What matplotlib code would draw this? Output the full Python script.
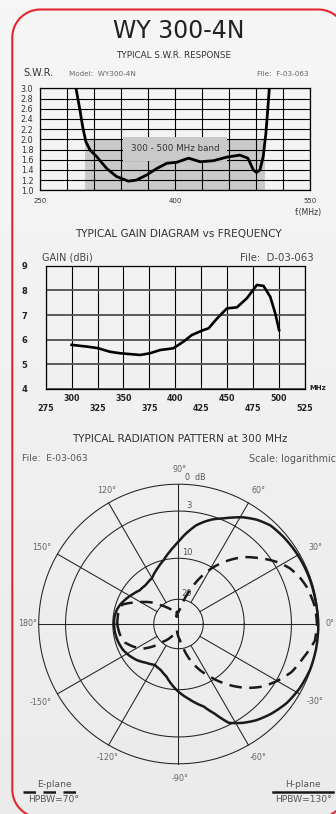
import numpy as np
import matplotlib
matplotlib.use("Agg")
import matplotlib.pyplot as plt
from matplotlib.patches import Rectangle, PathPatch
from matplotlib.path import Path
from matplotlib.colors import LinearSegmentedColormap

# ---------------- data ----------------
# S.W.R. response
swr_freq = [290, 294.4, 297.4, 301, 305.6, 313, 324, 335, 348, 357, 368.5, 380, 391,
            402, 415, 428, 442.6, 457.4, 472, 481, 487, 490.7, 494.4, 498, 501, 503, 504.8]
swr_vals = [3.0, 2.57, 2.25, 1.95, 1.79, 1.66, 1.43, 1.27, 1.18, 1.20, 1.30, 1.43, 1.53,
            1.55, 1.63, 1.56, 1.58, 1.65, 1.69, 1.63, 1.40, 1.35, 1.40, 1.66, 2.12, 2.57, 3.0]
swr_yticks = [1.0, 1.2, 1.4, 1.6, 1.8, 2.0, 2.2, 2.4, 2.6, 2.8, 3.0]
swr_xlabels = [250, 400, 550]
band_lo, band_hi, band_swr = 300, 500, 2.0

# Gain vs frequency
gain_freq = [300, 314.6, 325, 337, 346.7, 366, 375.6, 385.3, 398, 407.8, 415.9, 427, 432,
             440, 449.7, 459.3, 469, 478.6, 485, 491.5, 496.3, 500]
gain_vals = [5.79, 5.72, 5.66, 5.51, 5.45, 5.38, 5.45, 5.58, 5.65, 5.92, 6.19, 6.39, 6.46,
             6.85, 7.27, 7.31, 7.68, 8.22, 8.18, 7.74, 7.07, 6.39]
gain_yticks = [4, 5, 6, 7, 8, 9]
gain_xticks = [275, 300, 325, 350, 375, 400, 425, 450, 475, 500, 525]

# Radiation pattern at 300 MHz (dB below maximum)
h_ang = [-180, -172, -163, -155, -147, -139, -130, -120, -111, -103, -98, -90, -82, -73,
         -68, -63, -57, -51, -44, -36, -28, -19, -10, 0, 10, 18, 25, 31, 39, 47, 53, 59,
         63, 67, 72, 76, 80, 83, 86, 89, 93, 97, 103, 110, 120, 130, 139, 147, 154, 161,
         167, 174, 180]
h_db = [10.3, 10.4, 10.7, 11.1, 11.8, 12.6, 13.7, 14.5, 14.0, 12.9, 11.6, 9.7, 8.5, 6.95,
        5.4, 3.3, 2.45, 1.79, 1.2, 0.64, 0.3, 0.06, 0.0, 0.0, 0.1, 0.12, 0.17, 0.24, 0.37,
        0.56, 1.04, 1.71, 2.27, 2.8, 3.44, 4.14, 4.92, 5.71, 6.48, 7.29, 8.18, 8.95, 10.0,
        11.4, 13.1, 13.6, 13.5, 12.7, 11.9, 11.1, 10.6, 10.3, 10.3]
e_ang = [-180, -170, -161, -153, -145, -138, -131, -120, -111, -104, -95, -85, -78, -71,
         -65, -59, -51, -43, -37, -30, -23, -15, -7, 0, 7, 16, 21, 26.5, 31, 35, 40, 46,
         52, 58.5, 65, 71, 76, 81, 90, 98, 104, 115, 126, 134, 141, 148, 155, 161, 170, 180]
e_db = [11.1, 11.5, 12.2, 13.8, 15.6, 18.0, 21.1, 27.9, 31.9, 35.0, 31.9, 27.0, 19.7, 16.3,
        13.6, 11.0, 8.2, 5.86, 4.3, 2.9, 1.9, 1.16, 0.27, 0.15, 0.25, 0.7, 1.1, 1.7, 2.4,
        3.2, 4.5, 5.96, 7.8, 9.88, 13.6, 17.3, 19.5, 26.4, 30.3, 30.0, 34.0, 27.9, 23.2,
        19.6, 17.7, 15.9, 13.7, 11.5, 11.1, 11.1]
ring_db = [0, 3, 10, 20]
scale_db = [0, 3, 10, 20, 40]
scale_r = [1.0, 0.808, 0.47, 0.177, 0.0]
spoke_angles = [30, 60, 120, 150, 210, 240, 300, 330]

W, H = 336, 814
fig = plt.figure(figsize=(W / 100, H / 100), dpi=100)

def rect(l, t, r, b):
    return [l / W, 1 - b / H, (r - l) / W, (b - t) / H]

# background + frame
bg = fig.add_axes([0, 0, 1, 1], zorder=-10)
cmap = LinearSegmentedColormap.from_list("bg", ["#f6f6f6", "#ebebeb"])
bg.imshow(np.linspace(0, 1, 100).reshape(-1, 1), cmap=cmap, aspect="auto",
          extent=[0, W, H, 0], zorder=0)
bg.set_xlim(0, W)
bg.set_ylim(H, 0)
bg.set_autoscale_on(False)
bg.axis("off")

def rounded_frame(l, tp, r, b, rad, n=20):
    pts = []
    for (cxx, cyy, a0, a1) in [(r - rad, tp + rad, -90, 0), (r - rad, b - rad, 0, 90),
                               (l + rad, b - rad, 90, 180), (l + rad, tp + rad, 180, 270)]:
        a = np.deg2rad(np.linspace(a0, a1, n))
        pts.extend(zip(cxx + rad * np.cos(a), cyy + rad * np.sin(a)))
    pts.append(pts[0])
    return Path(pts)

bg.add_patch(PathPatch(rounded_frame(12.3, 9.5, 346.3, 817.5, 28), ec="#e3262d",
                       fc="none", lw=1.5, zorder=1))

FONT = "DejaVu Sans"
dark = "#333333"
grey = "#666666"

def t(x, y, s, size, color=dark, ha="center", weight="normal", family=FONT):
    bg.text(x, y, s, fontsize=size, color=color, ha=ha, va="center",
            fontweight=weight, family=family, zorder=5)

t(179, 31, "WY 300-4N", 17, color="#222222")
t(174, 55, "TYPICAL S.W.R. RESPONSE", 6.3)
t(23, 73.5, "S.W.R.", 7, ha="left")
t(69, 73.5, "Model:  WY300-4N", 5.2, color=grey, ha="left")
t(309, 73.5, "File:  F-03-063", 5.2, color=grey, ha="right")
t(308, 212, "f.(MHz)", 5.6, color=dark)

t(178, 233.5, "TYPICAL GAIN DIAGRAM vs FREQUENCY", 7.6)
t(42, 258, "GAIN (dBi)", 7, color="#444444", ha="left")
t(314, 258, "File:  D-03-063", 7.3, color="#444444", ha="right")
t(309, 387.5, "MHz", 5, ha="left", weight="bold", color="#222222")

t(180, 438.5, "TYPICAL RADIATION PATTERN at 300 MHz", 7.6)
t(22.5, 458.5, "File:  E-03-063", 6.6, color="#555555", ha="left")
t(249, 458.5, "Scale: logarithmic", 6.9, color="#555555", ha="left")

# ---------------- SWR chart ----------------
ax1 = fig.add_axes(rect(40, 88.3, 310, 190.3))
ax1.set_facecolor("none")
ax1.set_xlim(250, 550)
ax1.set_ylim(1.0, 3.0)
ax1.add_patch(Rectangle((band_lo, 1.0), band_hi - band_lo, band_swr - 1.0,
                        fc="#c9c9c9", ec="none", zorder=0))
ax1.set_xticks(np.arange(250, 551, 30), minor=True)
ax1.set_xticks(swr_xlabels)
ax1.set_xticklabels([str(v) for v in swr_xlabels], fontsize=5, color=dark)
ax1.set_yticks(swr_yticks)
ax1.set_yticklabels([f"{v:.1f}" for v in swr_yticks], fontsize=5.8, color=dark)
ax1.tick_params(axis="both", which="both", length=0)
ax1.tick_params(axis="x", pad=5.5)
ax1.tick_params(axis="y", pad=4.8)
ax1.grid(True, which="both", axis="x", color="black", lw=0.8, zorder=1)
ax1.grid(True, which="major", axis="y", color="black", lw=0.8, zorder=1)
ax1.set_axisbelow(False)
for s in ax1.spines.values():
    s.set_linewidth(0.9)
ax1.text(400, 1.81, "300 - 500 MHz band", fontsize=6.3, color=dark, ha="center",
         va="center", zorder=3,
         bbox=dict(boxstyle="square,pad=0.9", fc="#c9c9c9", ec="none"))
ax1.plot(swr_freq, swr_vals, color="black", lw=2.0, zorder=4, clip_on=True,
         solid_capstyle="butt")

# ---------------- Gain chart ----------------
ax2 = fig.add_axes(rect(45.7, 265.7, 305, 389))
ax2.set_facecolor("none")
ax2.set_xlim(275, 525)
ax2.set_ylim(4, 9)
ax2.set_xticks(gain_xticks)
labels = [(f"\n{v}" if i % 2 == 0 else f"{v}\n") for i, v in enumerate(gain_xticks)]
ax2.set_xticklabels(labels, fontsize=5.8, fontweight="bold", color="#222222",
                    linespacing=1.15)
ax2.set_yticks(gain_yticks)
ax2.set_yticklabels([str(v) for v in gain_yticks], fontsize=6, fontweight="bold",
                    color="#222222")
ax2.tick_params(axis="both", length=0)
ax2.tick_params(axis="x", pad=3.5)
ax2.tick_params(axis="y", pad=13)
ax2.grid(True, axis="x", color="black", lw=0.8)
ax2.grid(True, axis="y", color="#5a5a5a", lw=1.4)
for s in ax2.spines.values():
    s.set_linewidth(0.9)
ax2.plot(gain_freq, gain_vals, color="black", lw=1.9, zorder=4)

# ---------------- Polar pattern ----------------
cx, cy, R = 178.5, 624, 139.8
ax3 = fig.add_axes(rect(cx - R, cy - R, cx + R, cy + R), projection="polar")
ax3.set_facecolor("none")
ax3.set_ylim(0, 1)
ax3.grid(False)
ax3.set_xticks([])
ax3.set_yticks([])
ax3.spines["polar"].set_visible(False)

def db2r(db):
    return np.interp(db, scale_db, scale_r)

th = np.linspace(0, 2 * np.pi, 361)
for d in ring_db:
    ax3.plot(th, np.full_like(th, db2r(d)), color="#222222", lw=0.75, clip_on=False)
for a in [0, 90, 180, 270]:
    ax3.plot([np.deg2rad(a)] * 2, [0, 1], color="#222222", lw=0.75, clip_on=False)
for a in spoke_angles:
    ax3.plot([np.deg2rad(a)] * 2, [db2r(20), 1], color="#222222", lw=0.75, clip_on=False)

lh, = ax3.plot(np.deg2rad(h_ang), db2r(np.array(h_db)), color="#1a1a1a", lw=1.8,
               clip_on=False, solid_joinstyle="round")
le, = ax3.plot(np.deg2rad(e_ang), db2r(np.array(e_db)), color="#1a1a1a", lw=1.8,
               linestyle=(0, (5, 3)), clip_on=False)
# let the polar transform follow the curve between readings (theta-r space)
for ln in (lh, le):
    ln.get_path()._interpolation_steps = 12

# angle labels
ang_labels = [("90°", 179.7, 470), ("120°", 107, 490.7), ("60°", 258, 490.7),
              ("150°", 42, 547.7), ("30°", 315, 547.7), ("180°", 27.5, 623.5),
              ("0°", 329.5, 623.5), ("-150°", 40.5, 702.3), ("-30°", 315, 702),
              ("-120°", 107.5, 757.7), ("-60°", 258.3, 757.7), ("-90°", 180, 778.3)]
for s, x, y in ang_labels:
    t(x, y, s, 5.8, color="#666666")
t(195, 477, "0  dB", 5.8, color="#555555")
t(188.5, 505, "3", 6, color="#555555")
t(187, 552.3, "10", 6, color="#555555")
t(187, 594, "20", 6, color="#555555")

# legend
t(54, 784.3, "E-plane", 6.6, color="#555555")
bg.plot([23.3, 80], [791.7, 791.7], color="#1a1a1a", lw=1.8, linestyle=(0, (5, 3)), zorder=5)
t(54, 799.5, "HPBW=70°", 6.6, color="#555555")
t(303, 784.3, "H-plane", 6.6, color="#555555")
bg.plot([272.7, 333.3], [791.7, 791.7], color="#1a1a1a", lw=1.8, zorder=5)
t(303, 799.5, "HPBW=130°", 6.6, color="#555555")

fig.savefig("out.png", dpi=100)
